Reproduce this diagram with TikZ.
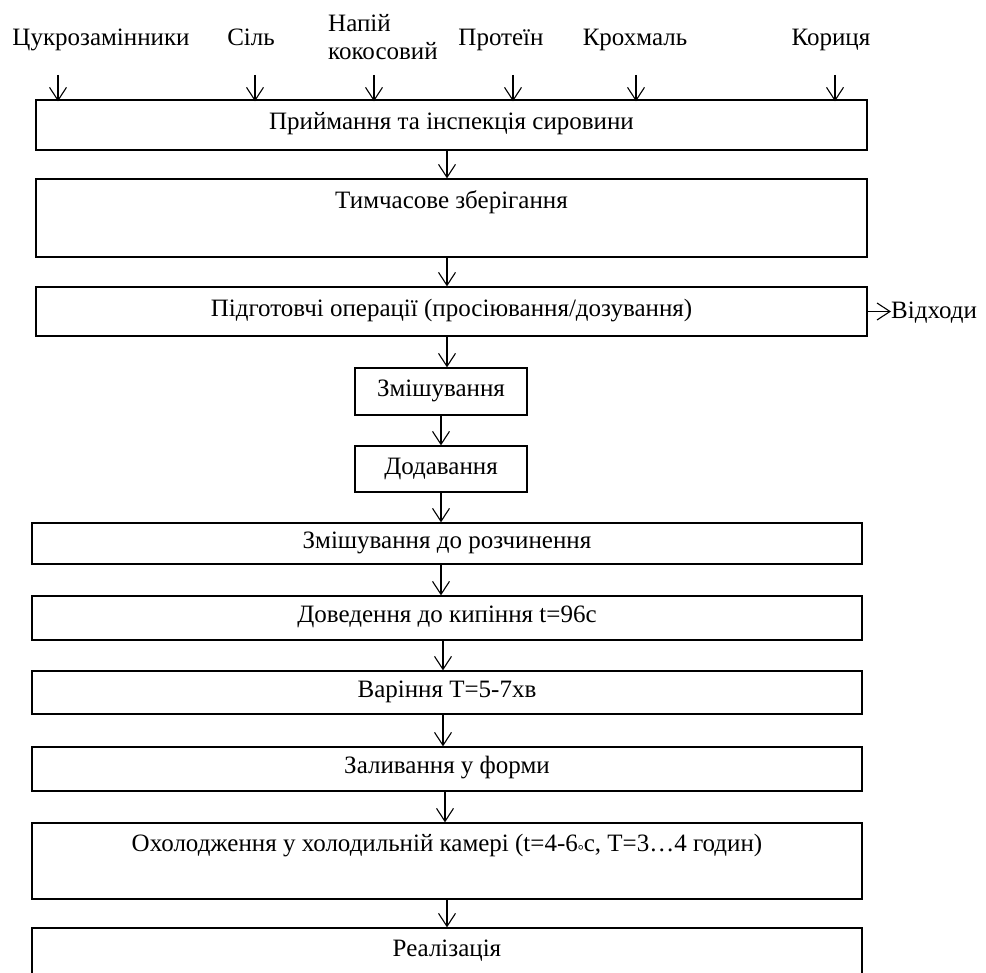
\documentclass[tikz,border=0pt]{standalone}
\usepackage{fontspec}
\setmainfont{Liberation Serif}
\usetikzlibrary{arrows.meta,calc}
\begin{document}
\begin{tikzpicture}[x=1pt,y=-1pt,
  every node/.style={font=\fontsize{25}{28.5}\selectfont},
  stepbox/.style={draw, line width=1.3pt, rectangle, inner sep=0pt},
  txt/.style={inner sep=0pt},
  toplbl/.style={inner sep=0pt, anchor=base},
  arr/.style={line width=1.1pt, -{Straight Barb[length=13pt,width=17pt,line width=1.1pt]}}]
\clip (0,0) rectangle (986,973);
% boxes
\node[stepbox, minimum width=831, minimum height=50] (b1) at (451.5,125) {};
\node[txt] at (451.5,124) {Приймання та інспекція сировини};
\node[stepbox, minimum width=831, minimum height=78] (b2) at (451.5,218) {};
\node[txt] at (451.5,202) {Тимчасове зберігання};
\node[stepbox, minimum width=831, minimum height=49] (b3) at (451.5,311.5) {};
\node[txt] at (451.5,311) {Підготовчі операції (просіювання/дозування)};
\node[stepbox, minimum width=172, minimum height=47] (b4) at (441,391.5) {};
\node[txt] at (441,391) {Змішування};
\node[stepbox, minimum width=172, minimum height=46] (b5) at (441,469) {};
\node[txt] at (441,469) {Додавання};
\node[stepbox, minimum width=830, minimum height=41] (b6) at (447,543.5) {};
\node[txt] at (447,543) {Змішування до розчинення};
\node[stepbox, minimum width=830, minimum height=44] (b7) at (447,618) {};
\node[txt] at (447,617) {Доведення до кипіння t=96с};
\node[stepbox, minimum width=830, minimum height=43] (b8) at (447,692.5) {};
\node[txt] at (447,692) {Варіння Т=5-7хв};
\node[stepbox, minimum width=830, minimum height=44] (b9) at (447,769) {};
\node[txt] at (447,768) {Заливання у форми};
\node[stepbox, minimum width=830, minimum height=76] (b10) at (447,861) {};
\node[txt] at (447,846) {Охолодження у холодильній камері (t=4-6{\raisebox{-0.3ex}{\fontsize{15}{15}\selectfont°}}с, Т=3…4 годин)};
\node[stepbox, minimum width=830, minimum height=78] (b11) at (447,967) {};
\node[txt] at (447,951) {Реалізація};
% ingredients
\node[toplbl] (i1) at (101,46) {Цукрозамінники};
\node[toplbl] (i2) at (251,46) {Сіль};
\node[txt, anchor=west, align=left] (i3) at (328,37) {Напій\\кокосовий};
\node[toplbl] (i4) at (501,46) {Протеїн};
\node[toplbl] (i5) at (635,46) {Крохмаль};
\node[toplbl] (i6) at (831,46) {Кориця};
\coordinate (a1) at (58,75);
\coordinate (a2) at (255,75);
\coordinate (a3) at (374,75);
\coordinate (a4) at (513,75);
\coordinate (a5) at (636,75);
\coordinate (a6) at (835,75);
\foreach \k in {1,...,6} {\draw[arr] (a\k) -- ([yshift=-2pt]a\k |- b1.north);}
% main flow
\draw[arr] ([xshift=-4.5pt]b1.south) -- ([xshift=-4.5pt]b2.north);
\draw[arr] ([xshift=-4.5pt]b2.south) -- ([xshift=-4.5pt]b3.north);
\draw[arr] ([xshift=-4.5pt]b3.south) -- ([xshift=6pt]b4.north);
\draw[arr] (b4.south) -- (b5.north);
\draw[arr] (b5.south) -- ([xshift=-6pt]b6.north);
\draw[arr] ([xshift=-6pt]b6.south) -- ([xshift=-6pt]b7.north);
\draw[arr] ([xshift=-4pt]b7.south) -- ([xshift=-4pt]b8.north);
\draw[arr] ([xshift=-4pt]b8.south) -- ([xshift=-4pt]b9.north);
\draw[arr] ([xshift=-2pt]b9.south) -- ([xshift=-2pt]b10.north);
\draw[arr] (b10.south) -- (b11.north);
% waste
\node[txt, anchor=west] (w) at (891,313) {Відходи};
\draw[arr] (b3.east) -- (b3.east -| w.west);
\end{tikzpicture}
\end{document}
